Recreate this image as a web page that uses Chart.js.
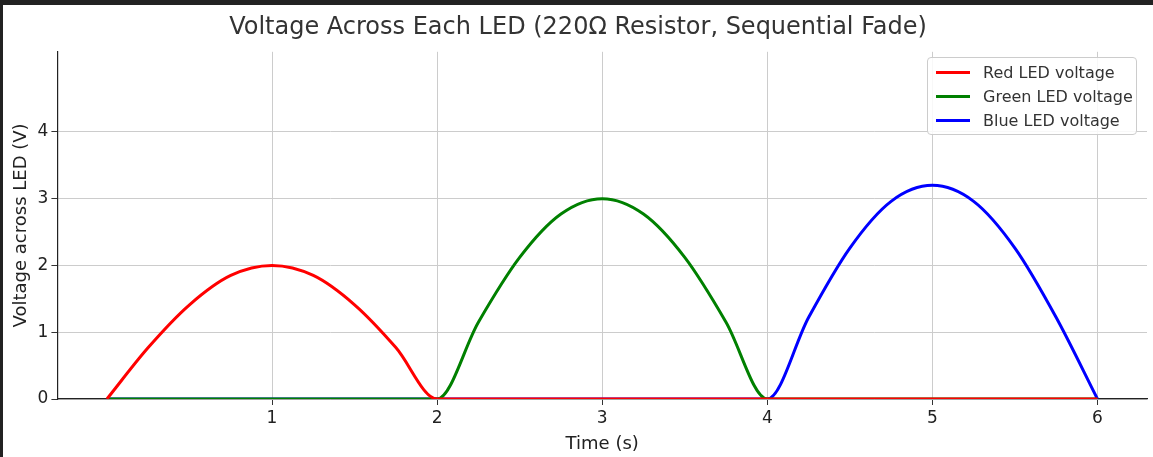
<!DOCTYPE html>
<html>
<head>
<meta charset="utf-8">
<script src="https://cdn.jsdelivr.net/npm/chart.js@4"></script>
<style>
  html, body { margin: 0; padding: 0; background: #222; }
  #wrap { position: absolute; left: 3px; top: 5px; width: 1150px; height: 452px; background: #fff; }
  #legend { position: absolute; left: 924px; top: 52px; width: 208px; border: 1px solid #ccc; border-radius: 4px;
            background: rgba(255,255,255,0.85); font: 16px "DejaVu Sans", sans-serif; color: #333; padding: 2px 0; }
  #legend div { display: flex; align-items: center; height: 24px; padding-left: 8px; }
  #legend span { display: inline-block; width: 34px; height: 3px; margin-right: 13px; }
</style>
</head>
<body>
<div id="wrap"><canvas id="c"></canvas><div id="legend"></div></div>
<script>
// --- DATA ---
const times = [0, 0.25, 0.5, 0.75, 1, 1.25, 1.5, 1.75, 2, 2.25, 2.5, 2.75, 3, 3.25, 3.5, 3.75, 4, 4.25, 4.5, 4.75, 5, 5.25, 5.5, 5.75, 6];
const redV   = [0, 0.77, 1.41, 1.85, 2.0, 1.85, 1.41, 0.77, 0, 0, 0, 0, 0, 0, 0, 0, 0, 0, 0, 0, 0, 0, 0, 0, 0];
const greenV = [0, 0, 0, 0, 0, 0, 0, 0, 0, 1.15, 2.12, 2.77, 3.0, 2.77, 2.12, 1.15, 0, 0, 0, 0, 0, 0, 0, 0, 0];
const blueV  = [0, 0, 0, 0, 0, 0, 0, 0, 0, 0, 0, 0, 0, 0, 0, 0, 0, 1.22, 2.26, 2.96, 3.2, 2.96, 2.26, 1.22, 0];
const seriesNames = ['Red LED voltage', 'Green LED voltage', 'Blue LED voltage'];
const seriesColors = ['#ff0000', '#008000', '#0000ff'];

const font = '"DejaVu Sans", sans-serif';
const pts = arr => times.map((t, i) => ({ x: t, y: arr[i] }));
const onlyInts = axis => { axis.ticks = axis.ticks.filter(t => Math.abs(t.value - Math.round(t.value)) < 1e-9); };

new Chart(document.getElementById('c'), {
    type: 'line',
    data: {
        datasets: [redV, greenV, blueV].map((v, i) => ({
            label: seriesNames[i],
            data: pts(v),
            borderColor: seriesColors[i],
            borderWidth: 3,
            pointRadius: 0,
            cubicInterpolationMode: 'monotone'
        }))
    },
    options: {
        responsive: true,
        maintainAspectRatio: false,
        animation: false,
        layout: { padding: { right: 6, top: 0, left: 6 } },
        plugins: {
            legend: { display: false },
            title: { display: true, text: 'Voltage Across Each LED (220Ω Resistor, Sequential Fade)',
                     color: '#333', font: { family: font, size: 24, weight: 'normal' }, padding: { top: 8, bottom: 10 } }
        },
        scales: {
            x: {
                type: 'linear', min: -0.3, max: 6.3,
                afterBuildTicks: onlyInts,
                ticks: { stepSize: 1, color: '#222', font: { family: font, size: 17 } },
                grid: { color: '#ccc', borderDash: [4, 3], drawTicks: true, tickColor: '#333', tickLength: 6 },
                border: { display: true, color: '#222', width: 1.2 },
                title: { display: true, text: 'Time (s)', color: '#222', font: { family: font, size: 18 }, padding: 2 }
            },
            y: {
                min: 0, max: 5.2,
                afterBuildTicks: onlyInts,
                ticks: { stepSize: 1, color: '#222', font: { family: font, size: 17 } },
                grid: { color: '#ccc', borderDash: [4, 3], tickColor: '#333', tickLength: 6 },
                border: { display: true, color: '#222', width: 1.2 },
                title: { display: true, text: 'Voltage across LED (V)', color: '#222', font: { family: font, size: 18 }, padding: 2 }
            }
        }
    }
});

document.getElementById('legend').innerHTML = seriesNames.map((n, i) =>
    `<div><span style="background:${seriesColors[i]}"></span>${n}</div>`).join('');
</script>
</body>
</html>
